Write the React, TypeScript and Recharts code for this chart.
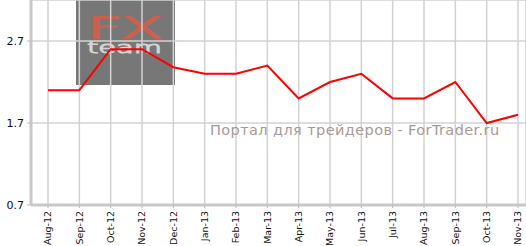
import React from "react";
import { LineChart, Line, XAxis, YAxis, CartesianGrid } from "recharts";

const months = ["Aug-12","Sep-12","Oct-12","Nov-12","Dec-12","Jan-13","Feb-13","Mar-13","Apr-13","May-13","Jun-13","Jul-13","Aug-13","Sep-13","Oct-13","Nov-13"];
const rates = [2.1, 2.1, 2.6, 2.6, 2.38, 2.3, 2.3, 2.4, 2.0, 2.2, 2.3, 2.0, 2.0, 2.2, 1.7, 1.8];
const yTicks = [0.7, 1.7, 2.7];

const data = months.map((m, i) => ({ month: m, value: rates[i] }));

const XTick = (props: any) => {
  const { x, y, payload } = props;
  return (
    <g transform={`translate(${x},${y + 1})`}>
      <text transform="rotate(-90)" x={0} y={0} dy="0.35em" textAnchor="end" fontSize={9.5} fill="#111" fontFamily="DejaVu Sans, Verdana, sans-serif">
        {payload.value}
      </text>
    </g>
  );
};

const YTick = (props: any) => {
  const { x, y, payload } = props;
  return (
    <text x={x - 1} y={y} dy="0.35em" textAnchor="end" fontSize={11} fill="#0a0a3a" fontFamily="DejaVu Sans, Verdana, sans-serif">
      {payload.value}
    </text>
  );
};

export default function App() {
  return (
    <div style={{ position: "absolute", left: 0, top: 0, width: 526, height: 246, background: "#fff" }}>
      <svg width={526} height={246} style={{ position: "absolute", left: 0, top: 0 }}>
        <rect x={76} y={0} width={99} height={85} fill="#777777" />
        <text x={87} y={38} fontSize={28} fontFamily="DejaVu Sans, sans-serif" fontWeight={200} fill="none" stroke="#c8624f" strokeWidth={1.8} textLength={75} lengthAdjust="spacingAndGlyphs">FX</text>
        <text x={87} y={53} fontSize={16} fontFamily="DejaVu Sans, sans-serif" fontWeight={200} fill="none" stroke="#d4d4d4" strokeWidth={1} textLength={75} lengthAdjust="spacingAndGlyphs">team</text>
      </svg>
      <div style={{ position: "absolute", left: 0, top: 0 }}>
        <LineChart width={526} height={246} data={data} margin={{ top: 0, right: 0, bottom: 0, left: 0 }}>
          <CartesianGrid stroke="#d2d2d2" strokeWidth={1.5} />
          <XAxis
            dataKey="month"
            height={41}
            interval={0}
            padding={{ left: 17, right: 8 }}
            tick={<XTick />}
            tickSize={3}
            tickLine={{ stroke: "#bbb" }}
            axisLine={{ stroke: "#c8c8c8", strokeWidth: 3 }}
          />
          <YAxis
            width={31}
            domain={[0.7, 3.2]}
            ticks={yTicks}
            tick={<YTick />}
            tickSize={4}
            tickLine={{ stroke: "#bbb" }}
            axisLine={{ stroke: "#c8c8c8", strokeWidth: 3 }}
            allowDataOverflow
          />
          <Line type="linear" dataKey="value" stroke="#ff0000" strokeWidth={2} dot={false} isAnimationActive={false} />
        </LineChart>
      </div>
      <div style={{ position: "absolute", left: 210, top: 122, fontFamily: "DejaVu Sans, Verdana, sans-serif", fontSize: 14.5, color: "#a89898", whiteSpace: "nowrap", letterSpacing: 0.4, pointerEvents: "none" }}>
        Портал для трейдеров - ForTrader.ru
      </div>
    </div>
  );
}
